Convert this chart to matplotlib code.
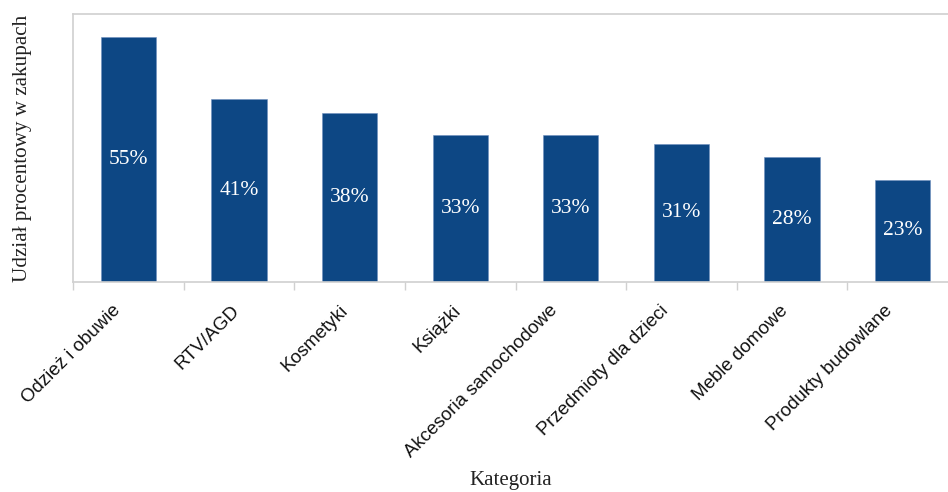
import matplotlib
matplotlib.use("Agg")
import matplotlib.pyplot as plt
from matplotlib.transforms import ScaledTranslation

# data
categories = ['Odzież i obuwie', 'RTV/AGD', 'Kosmetyki', 'Książki',
              'Akcesoria samochodowe', 'Przedmioty dla dzieci',
              'Meble domowe', 'Produkty budowlane']
shares = [55, 41, 38, 33, 33, 31, 28, 23]

bar_color = '#0d4784'
frame_color = '#d0d0d0'

fig = plt.figure(figsize=(9.48, 4.92), dpi=100)
# axes runs a little past the right edge, as in the original
ax = fig.add_axes([73 / 948, 1 - 282 / 492, (958 - 73) / 948, 268 / 492])

x = range(len(categories))
bars = ax.bar(x, shares, width=0.5, color=bar_color, edgecolor='#6f8fbf',
              linewidth=0.4, zorder=2)

for b, v in zip(bars, shares):
    ax.text(b.get_x() + b.get_width() / 2, v / 2, f'{v}%',
            ha='center', va='center', color='white',
            family='Liberation Serif', fontsize=15.5)

ax.set_xlim(-0.5, len(categories) - 0.5)
ax.set_ylim(0, 60.2)
ax.set_yticks([])

# category boundaries carry the ticks
ax.set_xticks([i - 0.5 for i in range(len(categories) + 1)])
ax.set_xticklabels([])
ax.tick_params(axis='x', which='major', length=6, color=frame_color,
               width=1)

# rotated category names; longer names sit a bit further left (Excel-like)
for i, name in zip(x, categories):
    dx = -max(len(name) - 5, 0) / 100
    off = ScaledTranslation(dx, -0.26, fig.dpi_scale_trans)
    ax.text(i, 0, name, rotation=45, ha='right', va='center',
            rotation_mode='anchor', family='Liberation Sans', fontsize=13.5,
            color='#111111', transform=ax.get_xaxis_transform() + off)

for s in ax.spines.values():
    s.set_color(frame_color)
    s.set_linewidth(1.2)

fig.text(511 / 948, 1 - 480 / 492, 'Kategoria', ha='center', va='center',
         family='Liberation Serif', fontsize=15, color='#222222')
ax.set_ylabel('Udział procentowy w zakupach', family='Liberation Serif',
              fontsize=15.2, color='#222222')
ax.yaxis.set_label_coords(-0.046, 0.5)

fig.savefig('out.png', dpi=100)
